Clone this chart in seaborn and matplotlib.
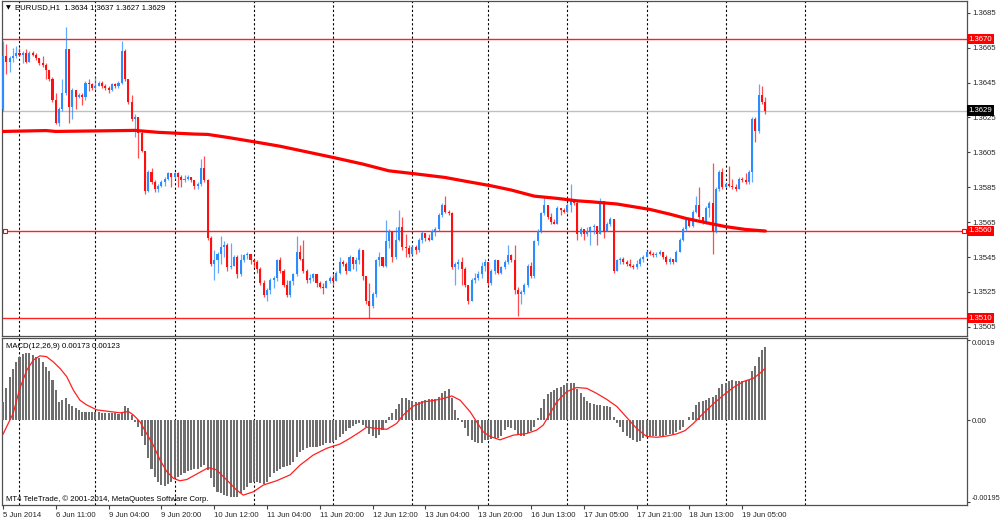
import numpy as np
import pandas as pd
import seaborn as sns
import matplotlib.pyplot as plt

# === EURUSD H1, prices in pips above 1.3500 ===
BASE = 1.3500
first_open = 130
close_pips = [
    160, 157, 159, 160, 162, 161, 162, 157, 162, 161, 159, 156, 155, 152, 147, 135, 122, 130, 139, 164,
    131, 141, 137, 138, 137, 145, 144, 142, 143, 145, 143, 142, 141, 144, 143, 145, 163, 147, 134, 124,
    125, 116, 106, 83, 94, 88, 84, 86, 88, 90, 93, 91, 93, 91, 89, 90, 91, 89, 86, 87,
    96, 89, 56, 41, 43, 47, 51, 52, 39, 40, 45, 35, 43, 46, 47, 43, 42, 38, 30, 23,
    26, 32, 33, 43, 37, 29, 23, 31, 35, 48, 44, 37, 32, 33, 35, 30, 28, 27, 31, 33,
    31, 36, 42, 41, 37, 45, 41, 43, 49, 34, 20, 17, 24, 43, 45, 40, 54, 60,
    45, 55, 62, 51, 50, 47, 51, 49, 55, 59, 56, 55, 60, 61, 69, 75, 71, 70, 39, 41,
    42, 38, 29, 20, 32, 33, 35, 40, 42, 30, 37, 43, 36, 39, 42, 46, 43, 26, 24, 25,
    29, 40, 34, 54, 60, 70, 75, 68, 65, 64, 73, 72, 71, 75, 77, 76, 58, 61, 58,
    60, 62, 63, 58, 77, 60, 64, 67, 37, 43, 44, 42, 41, 40, 39, 41, 44, 45, 48, 47,
    46, 47, 48, 45, 42, 44, 42, 48, 55, 61, 66, 63, 71, 75, 68, 65, 73, 76, 60, 84,
    94, 85, 87, 86, 85, 84, 90, 89, 88, 94, 124, 117, 138, 134, 129,
]
high_pips = [
    169, 167, 160, 165, 166, 165, 163, 164, 163, 163, 162, 159, 160, 156, 152, 148, 139, 131, 147, 177,
    164, 142, 141, 139, 139, 146, 147, 145, 148, 146, 146, 144, 143, 145, 145, 146, 169, 164, 147, 138,
    127, 124, 117, 106, 95, 96, 89, 87, 89, 91, 94, 93, 94, 94, 92, 92, 92, 91, 89, 88,
    101, 103, 90, 57, 49, 48, 57, 54, 53, 53, 46, 46, 47, 47, 48, 47, 44, 43, 39, 32,
    27, 33, 34, 44, 45, 38, 32, 32, 36, 57, 52, 55, 38, 35, 36, 35, 31, 30, 32, 34,
    35, 37, 45, 43, 42, 46, 45, 45, 50, 49, 34, 30, 25, 44, 48, 45, 66, 61,
    56, 62, 72, 68, 58, 52, 52, 52, 56, 60, 59, 58, 61, 62, 70, 76, 80, 72, 71, 42,
    44, 45, 39, 28, 33, 36, 37, 42, 44, 40, 38, 44, 43, 40, 43, 52, 47, 52, 28, 26,
    30, 41, 42, 55, 61, 71, 80, 74, 70, 67, 74, 73, 73, 76, 87, 78, 77, 62, 61,
    62, 63, 64, 63, 79, 76, 65, 68, 67, 44, 45, 45, 43, 44, 41, 43, 45, 46, 49, 49,
    48, 48, 49, 48, 46, 45, 44, 49, 56, 62, 67, 67, 72, 80, 85, 68, 74, 77, 99, 85,
    95, 96, 88, 97, 90, 87, 91, 91, 93, 95, 125, 125, 144, 143, 137,
]
low_pips = [
    129, 150, 151, 157, 159, 160, 156, 156, 157, 160, 158, 155, 154, 147, 146, 134, 121, 120, 129, 138,
    122, 124, 130, 136, 132, 135, 140, 141, 141, 143, 142, 141, 139, 140, 142, 142, 144, 146, 133, 123,
    114, 102, 105, 81, 82, 87, 82, 82, 85, 86, 89, 85, 90, 85, 85, 88, 89, 88, 84, 84,
    86, 88, 55, 40, 32, 36, 41, 45, 37, 38, 40, 33, 34, 42, 44, 41, 39, 36, 29, 22,
    20, 24, 27, 31, 36, 28, 22, 22, 29, 34, 43, 36, 30, 30, 31, 28, 27, 24, 27, 30,
    29, 31, 35, 40, 35, 37, 38, 37, 41, 32, 18, 10, 16, 22, 40, 39, 39, 50,
    42, 44, 54, 49, 45, 45, 46, 47, 48, 53, 54, 54, 55, 57, 60, 68, 70, 69, 38, 29,
    38, 29, 28, 18, 20, 30, 32, 33, 37, 29, 29, 35, 35, 35, 38, 41, 42, 24, 11, 18,
    24, 28, 33, 33, 52, 59, 69, 67, 64, 64, 64, 69, 70, 70, 71, 75, 55, 57, 55,
    57, 52, 58, 52, 58, 56, 60, 63, 36, 37, 41, 41, 40, 39, 38, 38, 40, 42, 45, 46,
    45, 45, 46, 44, 41, 41, 41, 42, 48, 54, 60, 62, 62, 70, 67, 64, 64, 68, 47, 59,
    83, 84, 85, 85, 84, 83, 84, 88, 87, 87, 88, 111, 116, 133, 127,
]

# moving average (thick red line), knots
ma_bar = [0, 13, 16, 40, 47, 58, 62, 68, 76, 84, 92, 100, 109, 117, 124, 134, 140, 148, 154,
          161, 168, 174, 178, 186, 196, 202, 207, 213, 219, 225, 231]
ma_pips = [117, 117.5, 117, 117.6, 116.5, 115.5, 115.3, 113.6, 111.1, 108.5, 105.3, 102.1, 98.3,
           94.4, 92.9, 90.6, 88.5, 85.8, 83.4, 79.9, 78.6, 77.2, 76.7, 75.4, 72.3, 69.6, 67.1,
           64.7, 62.4, 60.8, 59.9]

# MACD(12,26,9) histogram, in units of 0.0001
macd_hist = [
    4.3, 7.5, 10.3, 12.2, 13.8, 15.0, 15.6, 15.8, 15.8, 15.4,
    15.0, 14.6, 13.8, 12.6, 11.5, 9.5, 7.1, 4.3, 4.7, 5.1,
    3.9, 3.2, 2.8, 2.4, 2.0, 2.0, 2.0, 2.0, 2.0, 2.0, 1.7,
    1.7, 1.7, 1.7, 1.6, 1.4, 2.0, 3.2, 2.8, 1.2, -0.4,
    -1.6, -3.9, -5.9, -9.1, -11.5, -13.4, -14.8, -15.4, -15.6, -15.2,
    -14.6, -13.8, -13.4, -13.0, -12.5, -12.2, -11.8, -11.7, -11.5, -11.1,
    -10.7, -11.8, -13.8, -15.8, -17.0, -17.4, -17.8, -18.0, -18.2, -18.2,
    -18.2, -17.4, -16.6, -15.8, -15.0, -14.6, -14.6, -15.0, -15.2, -14.6,
    -13.4, -12.6, -12.2, -11.5, -11.1, -10.9, -10.7, -9.9, -8.7, -7.5,
    -7.1, -6.7, -6.5, -6.3, -6.3, -6.2, -5.9, -5.5, -5.5, -5.1,
    -4.7, -4.1, -3.3, -2.5, -2.0, -1.4, -1.0, -0.8, -1.2, -1.6,
    -3.2, -3.9, -4.3, -3.6, -2.4, -0.6, 0.6, 1.6, 2.5, 3.8,
    5.1, 5.1, 4.7, 4.6, 4.3, 4.3, 4.6, 4.7, 4.9, 4.9,
    4.9, 5.5, 6.3, 6.9, 7.3, 5.1, 2.4, 0.4, -0.4, -2.0,
    -3.9, -4.7, -5.1, -5.5, -5.4, -4.7, -4.7, -4.6, -4.3, -4.3,
    -3.9, -2.4, -1.6, -2.0, -2.4, -3.2, -3.8, -3.9, -3.0, -2.5,
    -1.6, 0.4, 2.8, 4.9, 6.2, 6.7, 7.0, 7.5, 7.9, 8.3,
    8.7, 8.7, 8.8, 7.3, 6.3, 5.5, 4.6, 4.1, 3.8, 3.6,
    3.6, 3.3, 3.2, 3.0, 0.6, -0.8, -1.7, -2.8, -3.8, -4.3,
    -4.7, -5.1, -4.9, -4.3, -3.9, -3.8, -3.8, -3.8, -3.8, -3.8, -3.6,
    -3.2, -3.2, -2.8, -2.4, -1.6, 0.0, 0.8, 2.0, 3.6, 4.3,
    4.6, 4.7, 5.1, 5.5, 5.9, 7.7, 8.5, 8.8, 9.3, 9.5,
    9.3, 9.3, 9.3, 9.3, 9.5, 11.5, 12.8, 15.0, 16.6, 17.3,
]
sig_bar = [0, 1.1, 3.1, 5.1, 7.2, 9.2, 11.2, 13.2, 15.2, 17.3, 19.3, 21.3, 23.3, 25.3, 28.4,
           32.4, 35.5, 38, 39.5, 41.5, 43.5, 45.5, 47.6, 49.6, 51.6, 53.6, 55.7, 58.7, 62.2,
           64.7, 67.8, 70.8, 72.8, 75.9, 78.9, 82.9, 87, 90, 94, 98.1, 102.1, 105.2, 108.2,
           110.2, 113.2, 116.3, 119.3, 121.3, 124.3, 127.4, 130.4, 133.4, 136, 138.5, 141.5,
           143.5, 145.5, 147.6, 150.6, 154.6, 158.7, 161.7, 163.7, 165.8, 167.8, 170.8, 173.8,
           176.9, 179.9, 182.9, 186, 189, 192, 195, 198.1, 201.1, 204.1, 206.7, 209.2, 212.2,
           215.2, 218.3, 221.3, 224.3, 227.4, 229.4, 231]
sig_val = [-3.4, -1.6, 1.6, 7.5, 11.8, 14.2, 15.2, 15.0, 13.8, 12.2, 10.3, 7.1, 4.7, 3.6, 2.4,
           2.0, 1.7, 2.0, 1.2, -0.4, -3.2, -5.9, -9.5, -12.2, -13.8, -14.4, -14.1, -12.8, -11.3,
           -11.8, -14.2, -16.6, -17.8, -17.0, -15.4, -14.4, -13.0, -10.7, -8.3, -6.7, -5.7, -4.3,
           -2.8, -1.7, -2.0, -2.2, -0.8, 1.2, 3.3, 4.3, 4.6, 5.1, 5.7, 4.7, 2.0, -0.4, -2.8,
           -3.9, -4.7, -3.6, -3.2, -2.4, -1.2, 1.6, 4.3, 6.7, 7.7, 7.5, 6.3, 4.9, 3.2, 0.6,
           -2.0, -3.9, -4.1, -3.8, -3.3, -2.5, -0.8, 1.6, 3.8, 5.9, 7.7, 9.1, 9.9, 11.1, 12.3]

levels = [1.3670, 1.3560, 1.3510]
price_ticks = [1.3505, 1.3525, 1.3545, 1.3565, 1.3585, 1.3605, 1.3625, 1.3645, 1.3665, 1.3685]
grid_bars = [5, 28, 52, 76, 100, 124, 147, 171, 195, 219, 243]
label_bars = [0, 16, 32, 48, 64, 80, 96, 112, 128, 144, 160, 176, 192, 208, 224]
label_text = ["5 Jun 2014", "6 Jun 11:00", "9 Jun 04:00", "9 Jun 20:00", "10 Jun 12:00",
              "11 Jun 04:00", "11 Jun 20:00", "12 Jun 12:00", "13 Jun 04:00", "13 Jun 20:00",
              "16 Jun 13:00", "17 Jun 05:00", "17 Jun 21:00", "18 Jun 13:00", "19 Jun 05:00"]

# === build frame ===
df = pd.DataFrame({"close": BASE + np.array(close_pips) / 1e4,
                   "high": BASE + np.array(high_pips) / 1e4,
                   "low": BASE + np.array(low_pips) / 1e4})
df["open"] = np.r_[BASE + first_open / 1e4, df["close"].values[:-1]]
df["high"] = df[["high", "open", "close"]].max(axis=1)
df["low"] = df[["low", "open", "close"]].min(axis=1)
df["bar"] = np.arange(len(df))
bull = df["close"] >= df["open"]
colors = np.where(bull, "#2b8cff", "#ff1010")

hist_df = pd.DataFrame({"bar": np.arange(len(macd_hist)), "hist": np.array(macd_hist) / 1e4})

sns.set_style("white")
plt.rcParams["font.family"] = ["Liberation Sans", "DejaVu Sans"]
FS = 5.6

fig = plt.figure(figsize=(10, 5.2), dpi=100)
ax = fig.add_axes([0.002, 1 - 336 / 520, 0.965, 335 / 520])
ax2 = fig.add_axes([0.002, 1 - 505 / 520, 0.965, 167 / 520])

for a in (ax, ax2):
    for gb in grid_bars:
        a.axvline(gb, color="black", lw=0.8, ls=(0, (2, 2)), zorder=1)

# --- price panel ---
for lv in levels:
    ax.axhline(lv, color="#ff2020", lw=1, zorder=2)
ax.axhline(df["close"].iloc[-1], color="#c0c0c0", lw=1, zorder=1.5)
ax.plot([0.003, 0.997], [levels[1], levels[1]], transform=ax.get_yaxis_transform(),
        ls="none", marker="s", ms=3, mfc="white", mec="red", mew=0.8, zorder=6)

ax.vlines(df["bar"], df["low"], df["high"], colors=colors, lw=0.9, alpha=0.75, zorder=3)
body = (df["close"] - df["open"]).where(lambda s: s.abs() > 0.00003, 0.00003)
ax.bar(df["bar"], body, bottom=df["open"], width=0.62, color=colors, lw=0, zorder=4)

sns.lineplot(x=ma_bar, y=BASE + np.array(ma_pips) / 1e4, ax=ax, color="#ff0000", lw=2.3, zorder=5)

ax.set_xlim(-0.3, 292.1)
ax.set_ylim(1.34997, 1.36918)
ax.set_xticks([])
ax.yaxis.tick_right()
ax.set_yticks(price_ticks)
ax.set_yticklabels([f"{t:.4f}" for t in price_ticks])
ax.tick_params(axis="y", length=2.5, width=0.8, color="#404040", labelsize=FS, pad=1.2, right=True)

for lv in levels:
    ax.text(1.0015, lv, f"{lv:.4f}", transform=ax.get_yaxis_transform(), ha="left", va="center",
            fontsize=FS, color="white", zorder=10,
            bbox=dict(boxstyle="square,pad=0.2", fc="#ff0000", ec="none"))
ax.text(1.0015, df["close"].iloc[-1], f"{df['close'].iloc[-1]:.4f}", transform=ax.get_yaxis_transform(),
        ha="left", va="center", fontsize=FS, color="white", zorder=10,
        bbox=dict(boxstyle="square,pad=0.2", fc="black", ec="none"))

# --- MACD panel ---
sns.barplot(data=hist_df, x="bar", y="hist", ax=ax2, native_scale=True, color="#6e6e6e",
            saturation=1, width=0.62, errorbar=None, linewidth=0, zorder=3)
sns.lineplot(x=sig_bar, y=np.array(sig_val) / 1e4, ax=ax2, color="#ff2020", lw=0.9, zorder=4)
ax2.set_xlim(-0.3, 292.1)
ax2.set_ylim(-0.002014, 0.001943)
ax2.set_ylabel("")
ax2.set_xlabel("")
ax2.yaxis.tick_right()
ax2.set_yticks([-0.00195, 0.0, 0.0019])
ax2.set_yticklabels(["-0.00195", "0.00", "0.0019"])
ax2.tick_params(axis="y", length=2.5, width=0.8, color="#404040", labelsize=FS, pad=1.2, right=True)
ylabs = ax2.get_yticklabels()
ylabs[0].set_fontsize(5.2)
ylabs[0].set_va("bottom")
ylabs[2].set_va("top")
ax2.set_xticks(label_bars)
ax2.set_xticklabels(label_text, ha="left")
ax2.tick_params(axis="x", length=3, width=0.8, color="#404040", labelsize=FS, pad=2, bottom=True)

for a in (ax, ax2):
    for s in a.spines.values():
        s.set_color("#505050")
        s.set_linewidth(0.9)

# --- texts ---
fig.text(6 / 1000, 1 - 8 / 520, "▼", fontsize=4.5, va="center", ha="left", color="black",
         family=["DejaVu Sans"])
fig.text(15 / 1000, 1 - 8 / 520, "EURUSD,H1  1.3634 1.3637 1.3627 1.3629", fontsize=FS,
         va="center", ha="left", color="black")
fig.text(6 / 1000, 1 - 346 / 520, "MACD(12,26,9) 0.00173 0.00123", fontsize=FS,
         va="center", ha="left", color="black")
fig.text(6 / 1000, 1 - 499 / 520, "MT4 TeleTrade, © 2001-2014, MetaQuotes Software Corp.",
         fontsize=FS, va="center", ha="left", color="black")

fig.savefig("out.png", dpi=100, facecolor="white")
